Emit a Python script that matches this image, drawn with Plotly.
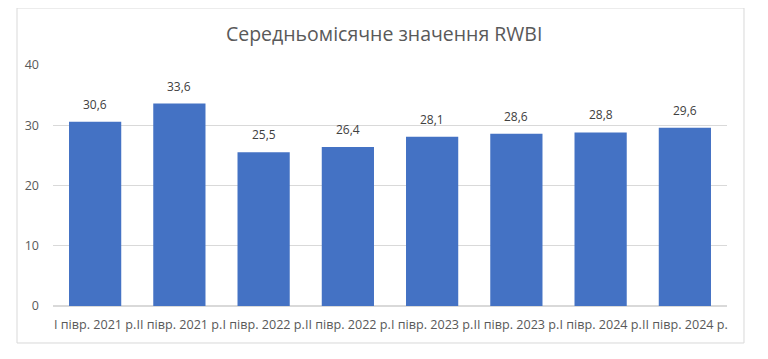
import plotly.graph_objects as go

categories = ["I півр. 2021 р.", "II півр. 2021 р.", "I півр. 2022 р.", "II півр. 2022 р.",
              "I півр. 2023 р.", "II півр. 2023 р.", "I півр. 2024 р.", "II півр. 2024 р."]
values = [30.6, 33.6, 25.5, 26.4, 28.1, 28.6, 28.8, 29.6]
y_ticks = [0, 10, 20, 30, 40]
title = "Середньомісячне значення RWBI"

FONT = "Open Sans"

fig = go.Figure(go.Bar(
    x=categories, y=values,
    marker=dict(color="#4472C4", line=dict(width=0)),
    hovertemplate="%{x}: %{y:.1f}<extra></extra>",
))

annotations = [
    dict(x=c, y=v, xref="x", yref="y", text=f"{v:.1f}".replace(".", ","),
         showarrow=False, yanchor="bottom", yshift=7,
         font=dict(family=FONT, size=12, color="#404040"))
    for c, v in zip(categories, values)
]

# page body has an 8px margin, so the figure is sized to fit the 768x359 window
fig.update_layout(
    width=760, height=351,
    margin=dict(l=45, r=41, t=57, b=53),
    paper_bgcolor="white", plot_bgcolor="white",
    separators=", ",
    bargap=0.38,
    showlegend=False,
    title=dict(text=title, x=0.495, xanchor="center", y=0.925, yanchor="middle",
               font=dict(family=FONT, size=19.5, color="#595959")),
    font=dict(family=FONT, color="#595959"),
    xaxis=dict(showgrid=False, showline=False, ticks="", tickangle=0,
               ticklabelstandoff=9,
               tickfont=dict(family=FONT, size=12.6, color="#595959")),
    yaxis=dict(range=[0, 40], tickvals=y_ticks, showgrid=True, gridcolor="#d9d9d9",
               gridwidth=1, zeroline=True, zerolinecolor="#d9d9d9", showline=False,
               ticks="", ticklabelstandoff=13,
               tickfont=dict(family=FONT, size=12.5, color="#595959")),
    annotations=annotations,
    shapes=[dict(type="rect", xref="paper", yref="paper",
                 x0=-0.0534, x1=1.0252, y0=-0.1535, y1=1.2365,
                 line=dict(color="#d9d9d9", width=1), fillcolor="rgba(0,0,0,0)", layer="below")],
)

fig.write_html("out.html")
